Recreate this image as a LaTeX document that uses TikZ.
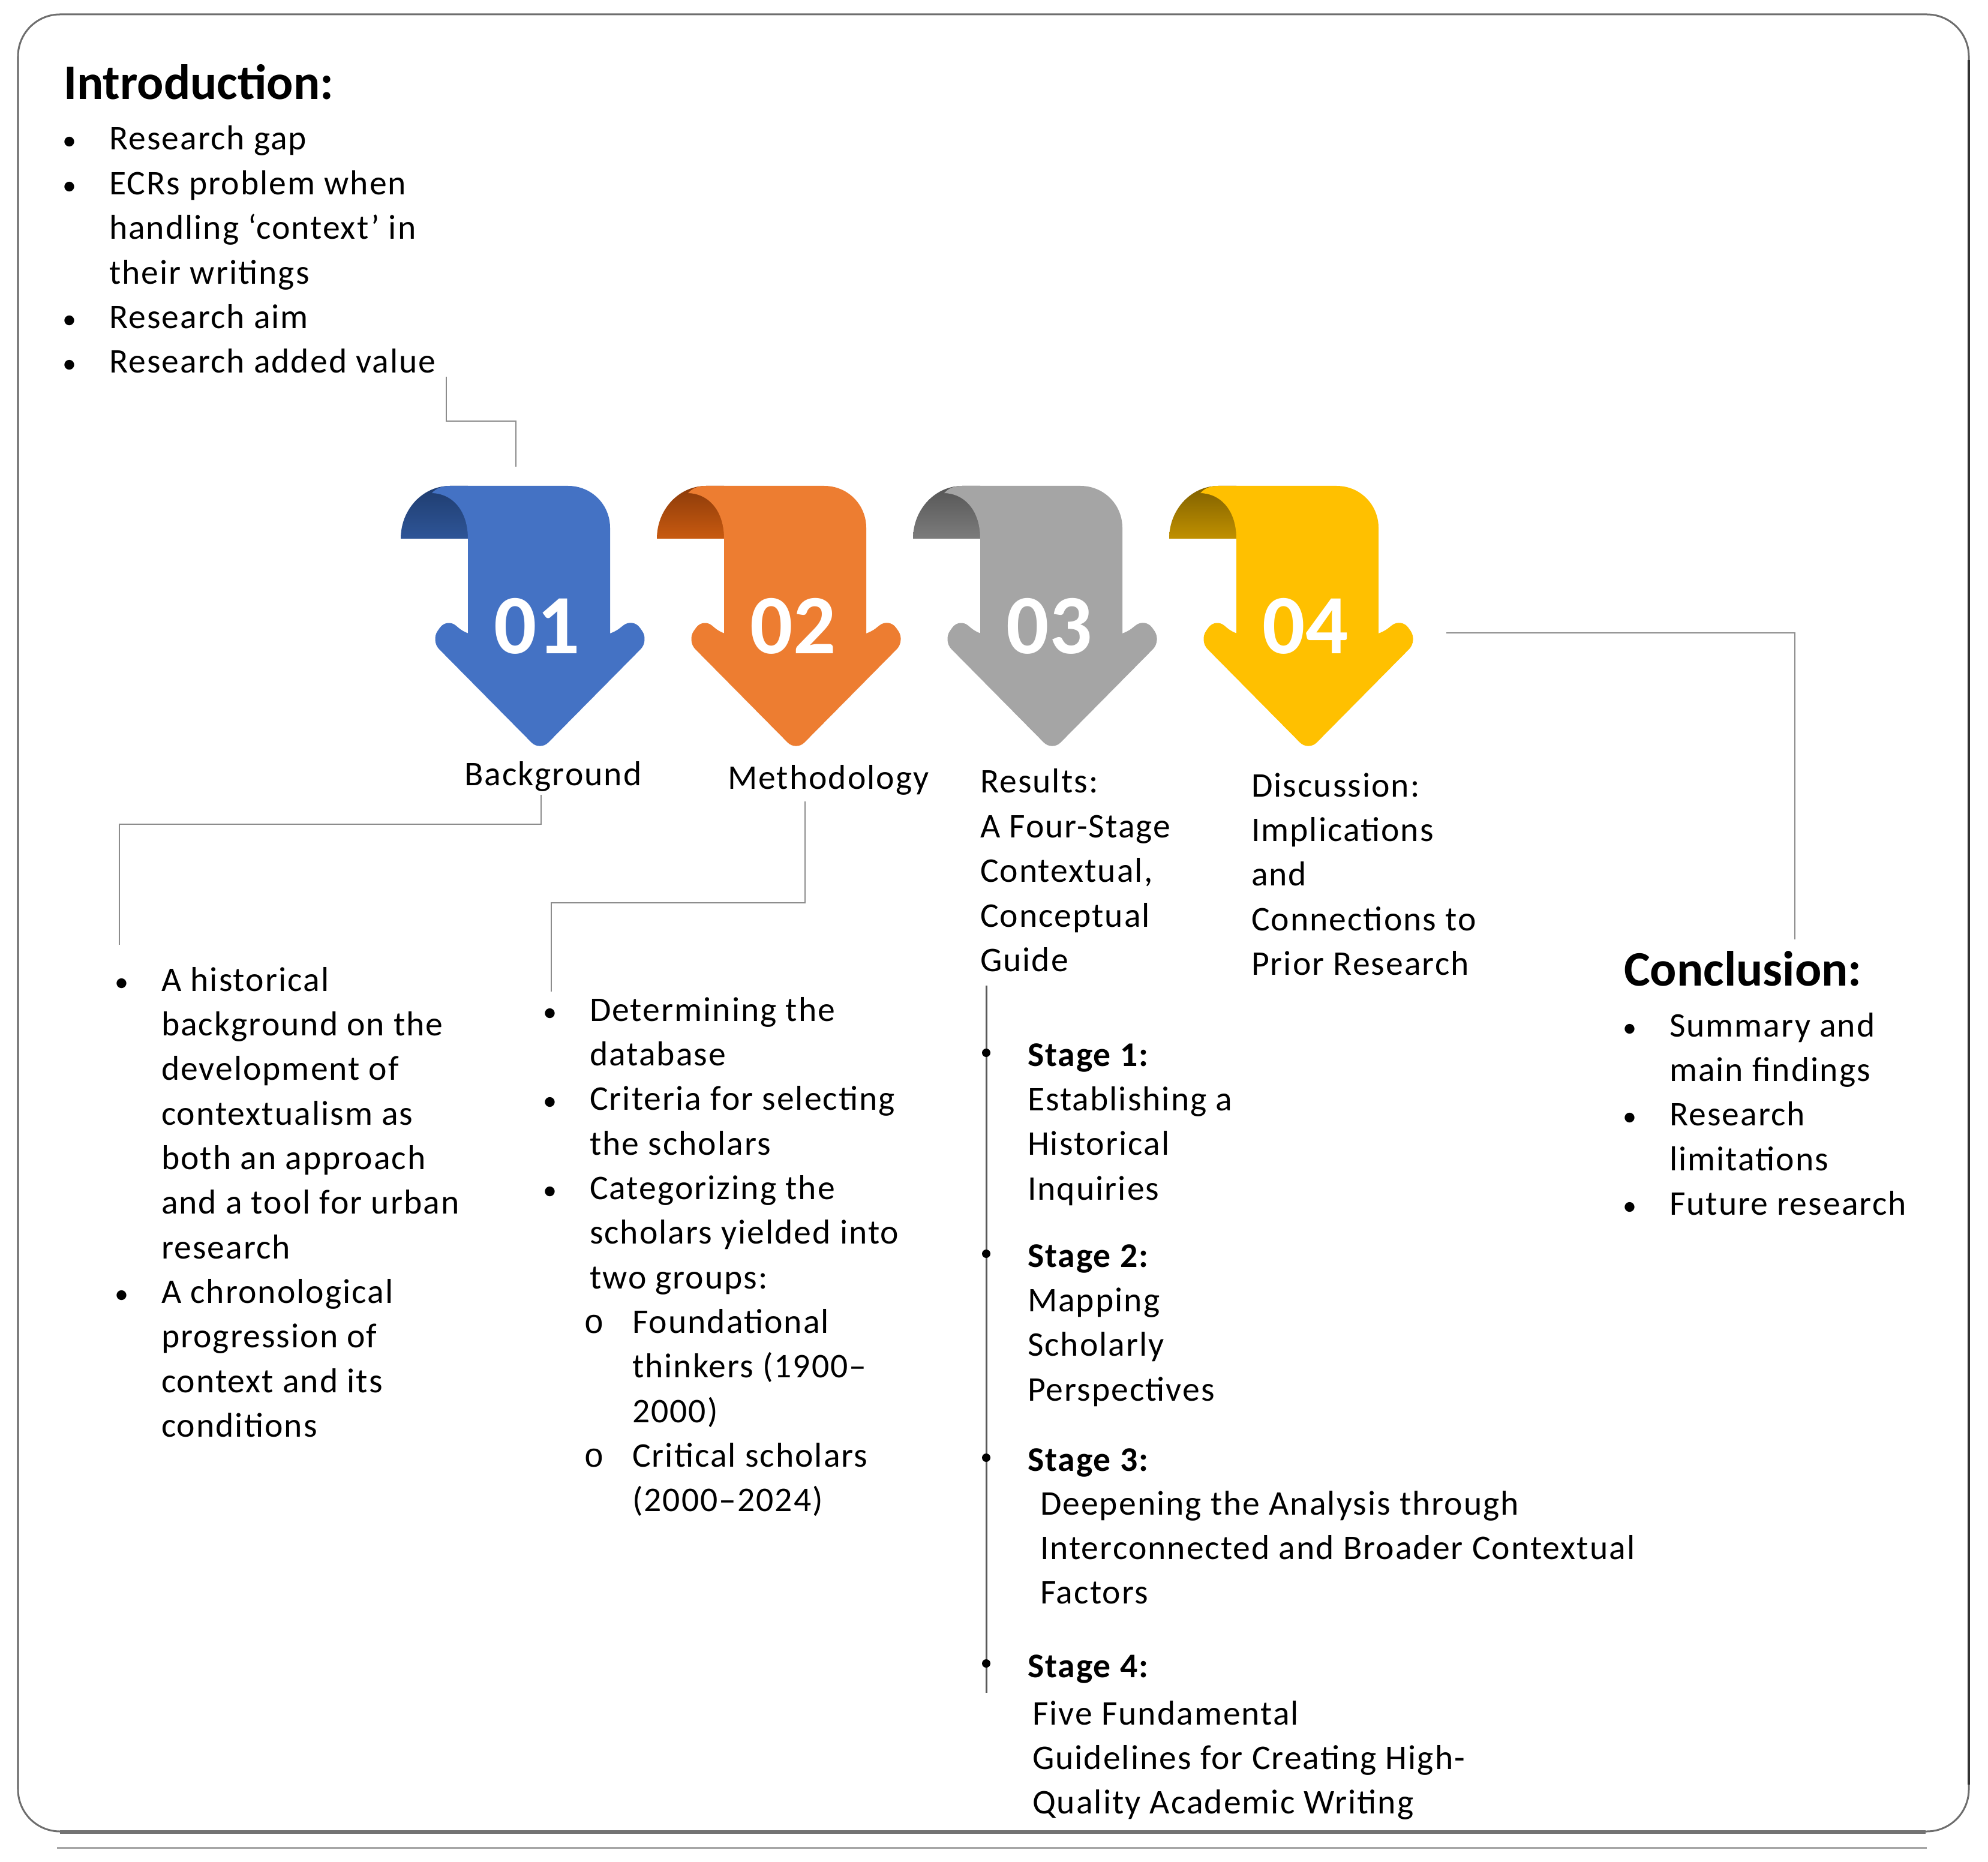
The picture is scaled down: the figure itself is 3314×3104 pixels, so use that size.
\documentclass[tikz,border=0pt]{standalone}
\usepackage{fontspec}
\setmainfont{Carlito}[LetterSpace=3.5]
\newfontfamily\plainfam{Carlito}
\newfontfamily\monof{Liberation Mono}
\usetikzlibrary{calc}
\definecolor{cblue}{HTML}{4472C4}
\definecolor{cbluetop}{HTML}{1F3C6E}
\definecolor{cbluebot}{HTML}{2E5597}
\definecolor{corange}{HTML}{ED7D31}
\definecolor{corangetop}{HTML}{8A3A0A}
\definecolor{corangebot}{HTML}{C85A10}
\definecolor{cgray}{HTML}{A5A5A5}
\definecolor{cgraytop}{HTML}{555555}
\definecolor{cgraybot}{HTML}{7C7C7C}
\definecolor{cyellow}{HTML}{FFC000}
\definecolor{cyellowtop}{HTML}{7F6000}
\definecolor{cyellowbot}{HTML}{C09000}
\definecolor{connc}{HTML}{8C8C8C}
\definecolor{framec}{HTML}{6E6E6E}
\newcommand\bodyf{\fontsize{16.4pt}{21.14pt}\selectfont}
\newcommand\headf{\plainfam\fontsize{23.5pt}{28pt}\selectfont\bfseries}
\newcommand\numf{\plainfam\fontsize{40pt}{48pt}\selectfont\bfseries}
\newcommand\tlines[1]{\vtop{\bodyf\halign{##\hfil\cr#1\crcr}}}
\newcommand\bl{\makebox[0pt]{\scalebox{0.8}{\textbullet}}\hspace*{0.66cm}}
\newcommand\bc{\hspace*{0.66cm}}
\newcommand\sbl{\hspace*{0.73cm}\makebox[0pt]{{\monof\fontsize{16pt}{18pt}\selectfont o}}\hspace*{0.64cm}}
\newcommand\sbc{\hspace*{1.37cm}}
% #1 tip x, #2 main colour, #3 dark top, #4 dark bottom, #5 number, #6 node name
\newcommand\ribbon[6]{%
  \shade[top color=#3,bottom color=#4] (#1-232,898) .. controls (#1-232,849) and (#1-195,810) .. (#1-150,810) -- (#1-120,810) -- (#1-120,898) -- cycle;
  \fill[#2] (#1-120,1070) -- (#1-120,898) .. controls (#1-120,852) and (#1-145,823) .. (#1-180,822) .. controls (#1-172,813) and (#1-162,810) .. (#1-150,810) -- (#1+47,810) .. controls (#1+86,810) and (#1+117,841) .. (#1+117,880) -- (#1+117,1070) -- cycle;
  \fill[#2, rounded corners=0.2cm] (#1-120,1060) -- (#1-155,1030) -- (#1-182,1068) -- (#1,1252) -- (#1+182,1068) -- (#1+155,1030) -- (#1+117,1060) -- cycle;
  \node[text=white, font=\numf] (#6) at (#1-5,1044) {#5};
}
\begin{document}
\begin{tikzpicture}[x=0.01cm,y=-0.01cm,
  every node/.style={inner sep=0pt, outer sep=0pt},
  txt/.style={anchor=base west, font=\bodyf},
  conn/.style={draw=connc, line width=0.025cm},
  resline/.style={draw=black!65, line width=0.03cm}]
\useasboundingbox[fill=white] (0,0) rectangle (3314,3104);

% frame
\draw[framec, line width=0.03cm, rounded corners=0.7cm] (30,24) rectangle (3282,3053);
\draw[black!80, line width=0.04cm] (3282,100) -- (3282,2975);
\draw[black!55, line width=0.06cm] (100,3054) -- (3210,3054);
\draw[black!35, line width=0.03cm] (95,3080) -- (3212,3080);

% ribbons
\ribbon{900}{cblue}{cbluetop}{cbluebot}{01}{n1}
\ribbon{1327}{corange}{corangetop}{corangebot}{02}{n2}
\ribbon{1754}{cgray}{cgraytop}{cgraybot}{03}{n3}
\ribbon{2181}{cyellow}{cyellowtop}{cyellowbot}{04}{n4}

% introduction
\node[anchor=base west, font=\headf] (intro) at (106,166) {Introduction:};
\node[anchor=base west] (introlist) at (116,250) {\tlines{%
\bl Research gap\cr
\bl ECRs problem when\cr
\bc handling ‘context’ in\cr
\bc their writings\cr
\bl Research aim\cr
\bl Research added value\cr}};

% labels under ribbons
\node[txt] (lbg) at (774,1310) {Background};
\node[txt] (lmeth) at (1213,1316) {Methodology};
\node[anchor=base west] (lres) at (1634,1322) {\tlines{Results:\cr A Four-Stage\cr Contextual,\cr Conceptual\cr Guide\cr}};
\node[anchor=base west] (ldisc) at (2086,1328) {\tlines{Discussion:\cr Implications\cr and\cr Connections to\cr Prior Research\cr}};

% background list
\node[anchor=base west] (bglist) at (203,1652) {\tlines{%
\bl A historical\cr
\bc background on the\cr
\bc development of\cr
\bc contextualism as\cr
\bc both an approach\cr
\bc and a tool for urban\cr
\bc research\cr
\bl A chronological\cr
\bc progression of\cr
\bc context and its\cr
\bc conditions\cr}};

% methodology list
\node[anchor=base west] (methlist) at (917,1702) {\tlines{%
\bl Determining the\cr
\bc database\cr
\bl Criteria for selecting\cr
\bc the scholars\cr
\bl Categorizing the\cr
\bc scholars yielded into\cr
\bc two groups:\cr
\sbl Foundational\cr
\sbc thinkers (1900–\cr
\sbc 2000)\cr
\sbl Critical scholars\cr
\sbc (2000–2024)\cr}};

% results stages
\node[anchor=base west] (st1) at (1713,1777) {\tlines{\textbf{Stage 1:}\cr Establishing a\cr Historical\cr Inquiries\cr}};
\node[anchor=base west] (st2) at (1713,2112) {\tlines{\textbf{Stage 2:}\cr Mapping\cr Scholarly\cr Perspectives\cr}};
\node[anchor=base west] (st3) at (1713,2452) {\tlines{\textbf{Stage 3:}\cr}};
\node[anchor=base west] (st3b) at (1734,2525) {\tlines{Deepening the Analysis through\cr Interconnected and Broader Contextual\cr Factors\cr}};
\node[anchor=base west] (st4) at (1713,2796) {\tlines{\textbf{Stage 4:}\cr}};
\node[anchor=base west] (st4b) at (1721,2875) {\tlines{Five Fundamental\cr Guidelines for Creating High-\cr Quality Academic Writing\cr}};

% conclusion
\node[anchor=base west, font=\headf] (concl) at (2707,1643) {Conclusion:};
\node[anchor=base west] (concllist) at (2717,1728) {\tlines{%
\bl Summary and\cr
\bc main findings\cr
\bl Research\cr
\bc limitations\cr
\bl Future research\cr}};

% connectors
\coordinate (ia) at (744,628);
\coordinate (ib) at (860,778);
\draw[conn] (ia) -- (744,702) -| (ib);
\coordinate (ba) at (902,1325);
\coordinate (bb) at (199,1575);
\draw[conn] (ba) -- (902,1374) -| (bb);
\coordinate (ma) at (1342,1336);
\coordinate (mb) at (919,1653);
\draw[conn] (ma) -- (1342,1505) -| (mb);
\coordinate (ca) at (2411,1055);
\coordinate (cb) at (2992,1566);
\draw[conn] (ca) -| (cb);
\coordinate (ra) at (1644,1643);
\coordinate (rb) at (1644,2822);
\draw[resline] (ra) -- (rb);
\foreach \yy in {1755,2090,2430,2773} \fill (1644,\yy) circle[radius=0.07cm];
\end{tikzpicture}
\end{document}
